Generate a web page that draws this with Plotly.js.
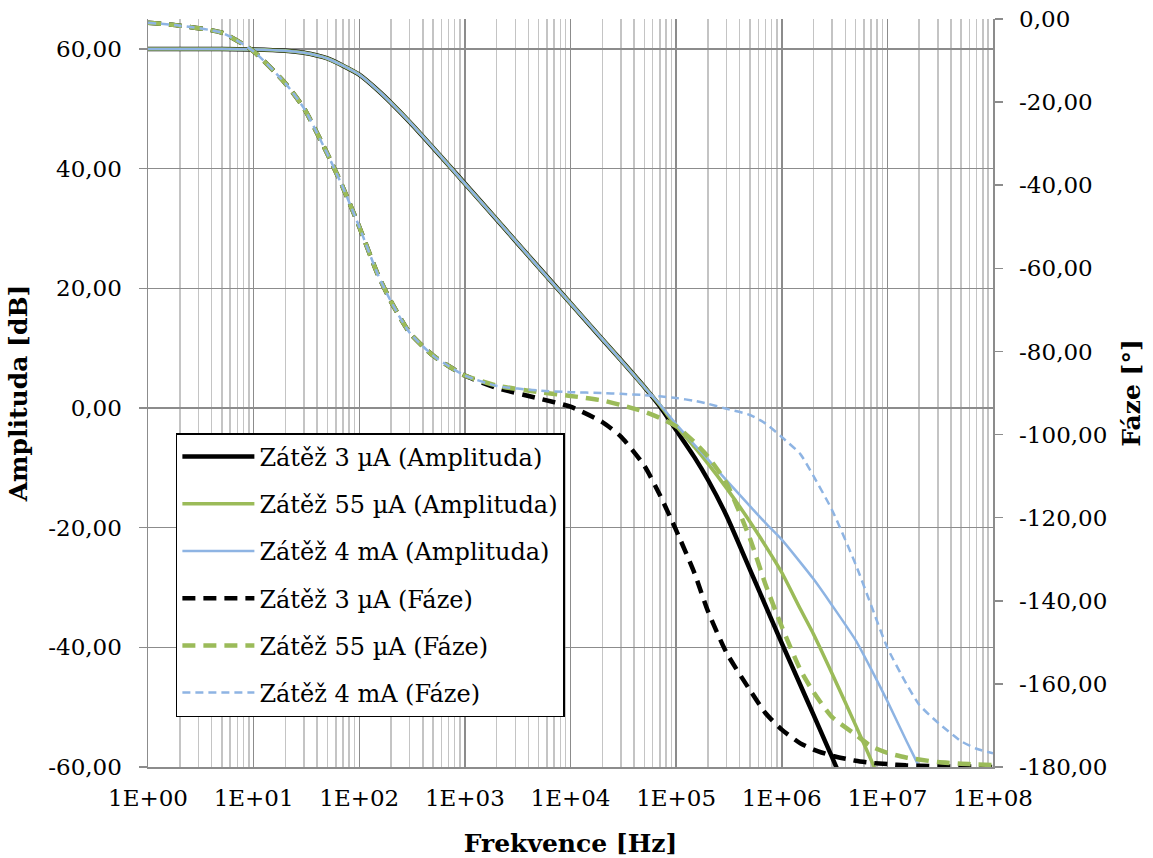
<!DOCTYPE html>
<html>
<head>
<meta charset="utf-8">
<script src="https://cdn.plot.ly/plotly-3.0.1.min.js"></script>
<style>
html,body{margin:0;padding:0;background:#fff;}
#chart{width:1153px;height:858px;}
</style>
</head>
<body>
<div id="chart"></div>
<script>
// Frequency points [Hz]
const freq = [1, 2, 5, 10, 20, 30, 50, 70, 100, 150, 200, 300, 500, 700,
  1e3, 2e3, 5e3, 1e4, 2e4, 3e4, 5e4, 7e4, 1e5, 1.5e5, 2e5, 3e5, 5e5, 7e5,
  1e6, 1.5e6, 2e6, 3e6, 5e6, 7e6, 1e7, 1.5e7, 2e7, 3e7, 5e7, 7e7, 1e8];

// Amplitude [dB]
const amp3uA = [60, 60, 59.98, 59.92, 59.7, 59.35, 58.4, 57.2, 55.7, 53.1, 51.0, 47.8, 43.5, 40.6,
  37.5, 31.5, 23.5, 17.5, 11.5, 8.0, 3.5, 0.3, -3.7, -8.3, -12.0, -18.0, -27.0, -33.0,
  -39.3, -46.3, -51.3, -58.4, -67.5, null, null, null, null, null, null, null, null];
const amp55uA = [60, 60, 59.98, 59.92, 59.7, 59.35, 58.4, 57.2, 55.7, 53.1, 51.0, 47.8, 43.5, 40.6,
  37.5, 31.5, 23.5, 17.5, 11.5, 8.0, 3.5, 0.5, -3.0, -6.6, -9.3, -13.4, -19.0, -23.0,
  -27.5, -33.6, -37.8, -44.4, -53.0, -58.8, -65.0, null, null, null, null, null, null];
const amp4mA = [60, 60, 59.98, 59.92, 59.7, 59.35, 58.4, 57.2, 55.7, 53.1, 51.0, 47.8, 43.5, 40.6,
  37.5, 31.5, 23.5, 17.5, 11.5, 8.0, 3.5, 0.6, -2.7, -6.2, -8.6, -12.1, -16.4, -19.2,
  -22.0, -25.8, -28.6, -33.0, -38.8, -43.6, -49.0, -55.5, -60.0, -67.0, null, null, null];

// Phase [deg]
const phase3uA = [-0.9, -1.6, -3.3, -7.8, -15.5, -21.5, -32.5, -40.5, -50, -61.5, -68, -75.5, -81, -83.5,
  -85.8, -88.8, -91.3, -93.3, -97, -100.5, -107.5, -114.5, -123, -133.5, -142.5, -152.5, -161.5, -167,
  -171, -174.3, -175.8, -177.3, -178.5, -179, -179.3, -179.6, -179.7, -179.8, -179.9, -179.9, -180];
const phase55uA = [-0.9, -1.6, -3.3, -7.8, -15.5, -21.5, -32.5, -40.5, -50, -61.5, -68, -75.5, -81, -83.5,
  -85.8, -88.2, -89.8, -90.7, -91.8, -92.9, -94.5, -96, -98, -101.9, -105.3, -111.7, -125, -136,
  -146.2, -156.6, -162, -168, -172.2, -175, -176.6, -177.7, -178.2, -178.8, -179.2, -179.4, -179.5];
const phase4mA = [-0.9, -1.6, -3.3, -7.8, -15.5, -21.5, -32.5, -40.5, -50, -61.5, -68, -75.5, -81, -83.5,
  -85.8, -88.3, -89.4, -89.8, -90, -90.2, -90.5, -90.8, -91.2, -91.9, -92.6, -93.8, -95.3, -97.3,
  -100.6, -104.7, -110, -118.2, -131.2, -141, -151.3, -159.8, -165, -169.3, -173.8, -175.6, -176.7];

// Tick labels
const xTickVals = [1, 10, 100, 1e3, 1e4, 1e5, 1e6, 1e7, 1e8];
const xTickText = ['1E+00', '1E+01', '1E+02', '1E+03', '1E+04', '1E+05', '1E+06', '1E+07', '1E+08'];
const ampTickVals = [-60, -40, -20, 0, 20, 40, 60];
const ampTickText = ['-60,00', '-40,00', '-20,00', '0,00', '20,00', '40,00', '60,00'];
const phaseTickVals = [-180, -160, -140, -120, -100, -80, -60, -40, -20, 0];
const phaseTickText = ['-180,00', '-160,00', '-140,00', '-120,00', '-100,00', '-80,00', '-60,00', '-40,00', '-20,00', '0,00'];

const names = ['Zátěž 3 µA (Amplituda)', 'Zátěž 55 µA (Amplituda)', 'Zátěž 4 mA (Amplituda)',
  'Zátěž 3 µA (Fáze)', 'Zátěž 55 µA (Fáze)', 'Zátěž 4 mA (Fáze)'];

const BLACK = '#000000', GREEN = '#9BBB59', BLUE = '#8EB4E3';
const FONT = 'DejaVu Serif';

function tr(y, name, color, width, dash, axis, grp) {
  return {
    x: freq, y: y, name: name, type: 'scatter', mode: 'lines',
    yaxis: axis, legendgroup: grp,
    line: {color: color, width: width, dash: dash, shape: 'spline', smoothing: 0.6},
    connectgaps: false, hoverinfo: 'skip'
  };
}

const data = [
  tr(amp3uA, names[0], BLACK, 4.5, 'solid', 'y', 'g1'),
  tr(amp55uA, names[1], GREEN, 3.5, 'solid', 'y', 'g2'),
  tr(amp4mA, names[2], BLUE, 2.5, 'solid', 'y', 'g3'),
  tr(phase3uA, names[3], BLACK, 4.5, '13px,8px', 'y2', 'g4'),
  tr(phase55uA, names[4], GREEN, 4.5, '13px,8px', 'y2', 'g5'),
  tr(phase4mA, names[5], BLUE, 2.5, '8px,5px', 'y2', 'g6')
];

const GRID_MAJOR = '#8c8c8c', GRID_MINOR = '#c4c4c4';

const layout = {
  width: 1153, height: 858,
  margin: {l: 148, r: 160, t: 19, b: 91, pad: 0},
  paper_bgcolor: '#ffffff', plot_bgcolor: '#ffffff',
  font: {family: FONT, size: 23, color: '#000'},
  showlegend: true,
  legend: {
    x: 0.033, y: 0.4465, xanchor: 'left', yanchor: 'top',
    bgcolor: '#ffffff', bordercolor: '#000000', borderwidth: 1.5,
    font: {family: FONT, size: 24, color: '#000'},
    traceorder: 'grouped', tracegroupgap: 13, itemwidth: 72
  },
  xaxis: {
    type: 'log', range: [0, 8],
    tickvals: xTickVals, ticktext: xTickText,
    tickfont: {family: FONT, size: 23},
    showgrid: true, gridcolor: GRID_MAJOR, gridwidth: 1.5,
    minor: {dtick: 'D1', showgrid: true, gridcolor: GRID_MINOR, gridwidth: 1.5, ticks: ''},
    showline: true, linecolor: GRID_MAJOR, linewidth: 1.5,
    ticks: '', ticklabelstandoff: 10,
    zeroline: false,
    title: {text: '<b>Frekvence [Hz]</b>', font: {family: FONT, size: 25}, standoff: 24},
    automargin: false
  },
  yaxis: {
    range: [-60, 65],
    tickvals: ampTickVals, ticktext: ampTickText,
    tickfont: {family: FONT, size: 23},
    showgrid: true, gridcolor: GRID_MAJOR, gridwidth: 1.5,
    showline: true, linecolor: GRID_MAJOR, linewidth: 1.5,
    ticks: 'outside', ticklen: 8, tickcolor: GRID_MAJOR, tickwidth: 1.5,
    ticklabelstandoff: 12,
    zeroline: false,
    title: {text: '<b>Amplituda [dB]</b>', font: {family: FONT, size: 25}, standoff: 13},
    automargin: false
  },
  yaxis2: {
    overlaying: 'y', side: 'right',
    range: [-180, 0],
    tickvals: phaseTickVals, ticktext: phaseTickText,
    tickfont: {family: FONT, size: 23},
    showgrid: false,
    showline: true, linecolor: GRID_MAJOR, linewidth: 1.5,
    ticks: 'outside', ticklen: 8, tickcolor: GRID_MAJOR, tickwidth: 1.5,
    ticklabelstandoff: 12,
    zeroline: false,
    title: {text: '<b>Fáze [°]</b>', font: {family: FONT, size: 25}, standoff: 16},
    automargin: false
  }
};

Plotly.newPlot('chart', data, layout, {displayModeBar: false, staticPlot: true});
</script>
</body>
</html>
